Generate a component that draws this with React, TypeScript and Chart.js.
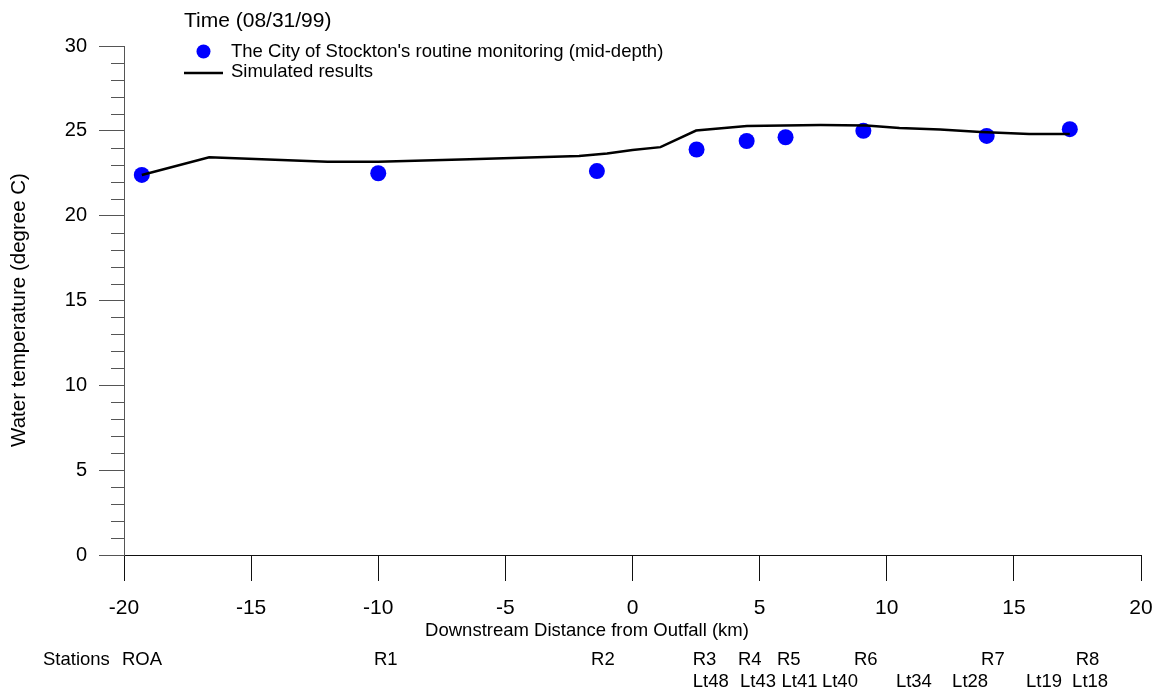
import React, { useEffect, useRef } from 'react';
import { Chart, registerables } from 'chart.js';

Chart.register(...registerables);

// ---- data ----
const obsKm = [-19.3, -10.0, -1.4, 2.52, 4.49, 6.02, 9.08, 13.93, 17.2];
const obsTemp = [22.4, 22.5, 22.63, 23.9, 24.4, 24.62, 25.0, 24.7, 25.1];

const simKm = [-19.3, -16.65, -12.0, -10.0, -6.4, -2.1, -1.0, 0.0, 1.1, 2.5, 4.5, 7.4, 9.2, 10.5, 12.1, 13.7, 15.6, 17.2];
const simTemp = [22.4, 23.44, 23.18, 23.18, 23.32, 23.52, 23.67, 23.87, 24.04, 25.02, 25.28, 25.34, 25.32, 25.17, 25.08, 24.93, 24.81, 24.81];

const stationTopLabels = ['ROA', 'R1', 'R2', 'R3', 'R4', 'R5', 'R6', 'R7', 'R8'];
const stationTopKm = [-20.08, -10.17, -1.63, 2.37, 4.15, 5.68, 8.71, 13.71, 17.43];
const stationBottomLabels = ['Lt48', 'Lt43', 'Lt41', 'Lt40', 'Lt34', 'Lt28', 'Lt19', 'Lt18'];
const stationBottomKm = [2.37, 4.23, 5.86, 7.45, 10.36, 12.57, 15.48, 17.29];

const xTickMin = -20;
const xTickMax = 20;
const yTickMin = 0;
const yTickMax = 30;

const legendTitle = 'Time (08/31/99)';
const obsLabel = "The City of Stockton's routine monitoring (mid-depth)";
const simLabel = 'Simulated results';
const xTitle = 'Downstream Distance from Outfall (km)';
const yTitle = 'Water temperature (degree C)';
const stationsWord = 'Stations';

const FONT = "'Liberation Sans', Arial, Helvetica, sans-serif";
const Y_AXIS_COLOR = '#555555';
const X_AXIS_COLOR = '#111111';

const overlayPlugin = {
  id: 'overlay',
  afterDraw(chart: any) {
    const ctx = chart.ctx as CanvasRenderingContext2D;
    const xs = chart.scales.x;
    const ys = chart.scales.y;
    const area = chart.chartArea;
    ctx.save();

    // minor y ticks
    ctx.strokeStyle = Y_AXIS_COLOR;
    ctx.lineWidth = 1;
    for (let v = yTickMin; v <= yTickMax; v += 1) {
      if (v % 5 === 0) continue;
      const py = Math.round(ys.getPixelForValue(v)) + 0.5;
      ctx.beginPath();
      ctx.moveTo(area.left - 13, py);
      ctx.lineTo(area.left, py);
      ctx.stroke();
    }

    ctx.fillStyle = '#000';
    ctx.textBaseline = 'middle';

    // legend header
    ctx.textAlign = 'left';
    ctx.font = `21px ${FONT}`;
    ctx.fillText(legendTitle, 184, 21);

    // legend items
    ctx.font = `18.5px ${FONT}`;
    ctx.fillStyle = '#0000ff';
    ctx.beginPath();
    ctx.arc(203.5, 51.5, 7, 0, Math.PI * 2);
    ctx.fill();
    ctx.fillStyle = '#000';
    ctx.fillText(obsLabel, 231, 52);

    ctx.strokeStyle = '#000';
    ctx.lineWidth = 2.5;
    ctx.beginPath();
    ctx.moveTo(184, 73);
    ctx.lineTo(223, 73);
    ctx.stroke();
    ctx.fillText(simLabel, 231, 72);

    // y title
    ctx.save();
    ctx.translate(19, 310);
    ctx.rotate(-Math.PI / 2);
    ctx.textAlign = 'center';
    ctx.font = `20.5px ${FONT}`;
    ctx.fillText(yTitle, 0, 0);
    ctx.restore();

    // x title
    ctx.textAlign = 'center';
    ctx.font = `18.5px ${FONT}`;
    ctx.fillText(xTitle, 587, 631);

    // stations
    ctx.textAlign = 'left';
    ctx.fillText(stationsWord, 43, 660);
    stationTopLabels.forEach((lab, i) => {
      ctx.fillText(lab, xs.getPixelForValue(stationTopKm[i]), 660);
    });
    stationBottomLabels.forEach((lab, i) => {
      ctx.fillText(lab, xs.getPixelForValue(stationBottomKm[i]), 682);
    });

    ctx.restore();
  },
};

export default function App() {
  const ref = useRef<HTMLCanvasElement | null>(null);

  useEffect(() => {
    if (!ref.current) return;
    const chart = new Chart(ref.current, {
      type: 'scatter',
      data: {
        datasets: [
          {
            label: simLabel,
            data: simKm.map((x, i) => ({ x, y: simTemp[i] })),
            showLine: true,
            borderColor: '#000000',
            backgroundColor: '#000000',
            borderWidth: 2.5,
            pointRadius: 0,
            tension: 0,
            order: 0,
          },
          {
            label: obsLabel,
            data: obsKm.map((x, i) => ({ x, y: obsTemp[i] })),
            showLine: false,
            backgroundColor: '#0000ff',
            borderWidth: 0,
            pointRadius: 8,
            order: 1,
          },
        ],
      },
      options: {
        responsive: false,
        animation: false,
        devicePixelRatio: 1,
        layout: { padding: { left: 0, top: 46, right: 19, bottom: 0 } },
        plugins: {
          legend: { display: false },
          tooltip: { enabled: false },
        },
        scales: {
          x: {
            type: 'linear',
            position: 'bottom',
            min: xTickMin,
            max: xTickMax,
            afterFit: (s: any) => {
              s.height = 138;
              s.paddingLeft = 0;
              s.paddingRight = 0;
            },
            ticks: {
              stepSize: 5,
              color: '#000',
              padding: 15,
              maxRotation: 0,
              font: { family: FONT, size: 21 },
            },
            grid: {
              display: true,
              drawOnChartArea: false,
              drawTicks: true,
              tickLength: 26,
              color: X_AXIS_COLOR,
              lineWidth: 1,
            },
            border: { display: true, color: X_AXIS_COLOR, width: 1 },
          },
          y: {
            type: 'linear',
            position: 'left',
            min: yTickMin,
            max: yTickMax,
            afterFit: (s: any) => {
              s.width = 124;
            },
            ticks: {
              stepSize: 5,
              color: '#000',
              padding: 12,
              font: { family: FONT, size: 20 },
            },
            grid: {
              display: true,
              drawOnChartArea: false,
              drawTicks: true,
              tickLength: 25,
              color: Y_AXIS_COLOR,
              lineWidth: 1,
            },
            border: { display: true, color: Y_AXIS_COLOR, width: 1 },
          },
        },
      },
      plugins: [overlayPlugin],
    });
    return () => chart.destroy();
  }, []);

  return (
    <div style={{ position: 'absolute', left: 0, top: 0, width: 1160, height: 693, background: '#fff' }}>
      <canvas ref={ref} width={1160} height={693} style={{ display: 'block' }} />
    </div>
  );
}
